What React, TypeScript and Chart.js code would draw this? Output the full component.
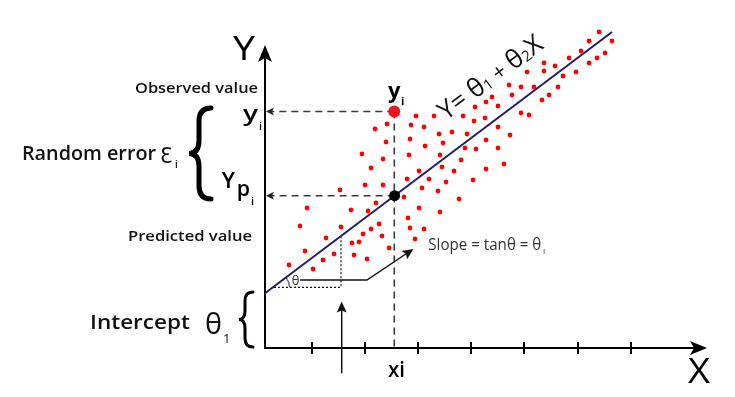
import React, { useEffect, useRef } from "react";
import { Chart, registerables } from "chart.js";
Chart.register(...registerables);

const dotX = [334, 324, 347, 316, 340, 332, 304, 324, 279, 290, 279, 311, 262, 298, 244, 256, 269, 293, 284, 277, 247, 227, 221, 210, 233, 256, 264, 151, 169, 198, 209, 220, 122, 110, 146, 159, 187, 174, 202, 233, 245, 121, 145, 160, 178, 221, 200, 211, 233, 97, 118, 144, 175, 196, 239, 106, 154, 177, 189, 221, 142, 164, 181, 208, 100, 118, 157, 75, 173, 139, 194, 42, 86, 103, 111, 154, 175, 35, 76, 114, 106, 143, 145, 159, 61, 98, 117, 150, 87, 94, 40, 69, 58, 89, 102, 124, 24, 48];
const dotY = [316, 307, 307, 297, 295, 290, 290, 285, 285, 282, 277, 276, 276, 272, 263, 261, 261, 261, 253, 248, 253, 251, 246, 241, 242, 235, 233, 232, 232, 232, 227, 230, 224, 219, 223, 221, 216, 214, 214, 221, 213, 206, 209, 202, 205, 208, 200, 199, 200, 194, 189, 193, 193, 188, 184, 180, 177, 181, 177, 179, 169, 169, 166, 168, 163, 163, 160, 158, 157, 151, 149, 140, 138, 137, 145, 140, 136, 122, 121, 124, 119, 130, 120, 119, 110, 114, 112, 109, 105, 106, 97, 94, 88, 93, 89, 100, 83, 79];

// Regression line Y = θ1 + θ2 X (end points)
const lineX = [0, 347];
const lineY = [54.7, 316];

// Highlighted observation y_i and its prediction Y_p_i at x_i
const observedX = [129.3];
const observedY = [236.5];
const predictedX = [129.6];
const predictedY = [152.3];

// X-axis tick positions and axis extents
const xTicks = [47, 100, 153, 206, 259, 313, 366];
const xAxisEnd = [442];
const yAxisEnd = [303];

const FF = '"Open Sans", "DejaVu Sans", sans-serif';

function drawText(
  ctx: CanvasRenderingContext2D,
  s: string,
  x: number,
  y: number,
  size: number,
  weight: number,
  o: { w?: number; align?: string; base?: CanvasTextBaseline; color?: string; family?: string } = {}
) {
  ctx.save();
  ctx.font = `${weight} ${size}px ${o.family || FF}`;
  const m = ctx.measureText(s).width;
  const sx = o.w ? o.w / m : 1;
  const width = m * sx;
  let x0 = x;
  if (o.align === "right") x0 = x - width;
  else if (o.align === "center") x0 = x - width / 2;
  ctx.translate(x0, y);
  ctx.scale(sx, 1);
  ctx.textAlign = "left";
  ctx.textBaseline = o.base || "alphabetic";
  ctx.fillStyle = o.color || "#111";
  ctx.fillText(s, 0, 0);
  ctx.restore();
}

function brace(ctx: CanvasRenderingContext2D, xTip: number, xBody: number, xEnd: number, yTop: number, yBot: number, lw: number) {
  const ym = (yTop + yBot) / 2;
  const r = Math.abs(xEnd - xBody) * 1.1;
  ctx.save();
  ctx.strokeStyle = "#000";
  ctx.lineWidth = lw;
  ctx.lineCap = "round";
  ctx.setLineDash([]);
  ctx.beginPath();
  ctx.moveTo(xEnd, yTop);
  ctx.quadraticCurveTo(xBody, yTop, xBody, yTop + r);
  ctx.lineTo(xBody, ym - r);
  ctx.quadraticCurveTo(xBody, ym, xTip, ym);
  ctx.quadraticCurveTo(xBody, ym, xBody, ym + r);
  ctx.lineTo(xBody, yBot - r);
  ctx.quadraticCurveTo(xBody, yBot, xEnd, yBot);
  ctx.stroke();
  ctx.restore();
}

function arrowHead(ctx: CanvasRenderingContext2D, tx: number, ty: number, fx: number, fy: number, len: number, half: number, notch: number) {
  const a = Math.atan2(ty - fy, tx - fx);
  const c = Math.cos(a), s = Math.sin(a);
  const bx = tx - c * len, by = ty - s * len;
  ctx.beginPath();
  ctx.moveTo(tx, ty);
  ctx.lineTo(bx - s * half, by + c * half);
  ctx.lineTo(tx - c * (len - notch), ty - s * (len - notch));
  ctx.lineTo(bx + s * half, by - c * half);
  ctx.closePath();
  ctx.fill();
}

const diagramPlugin = {
  id: "diagram",
  beforeDatasetsDraw(chart: any) {
    const ctx: CanvasRenderingContext2D = chart.ctx;
    const xs = chart.scales.x, ys = chart.scales.y;
    const X = (v: number) => xs.getPixelForValue(v);
    const Y = (v: number) => ys.getPixelForValue(v);
    const x0 = X(0), y0 = Y(0);
    ctx.save();
    // dashed guides
    ctx.strokeStyle = "#3a3a3a";
    ctx.lineWidth = 1.6;
    ctx.setLineDash([7, 5]);
    ctx.beginPath();
    ctx.moveTo(X(observedX[0]), Y(observedY[0]));
    ctx.lineTo(x0 + 4, Y(observedY[0]));
    ctx.moveTo(X(predictedX[0]), Y(predictedY[0]));
    ctx.lineTo(x0 + 4, Y(predictedY[0]));
    ctx.moveTo(X(observedX[0]), Y(observedY[0]));
    ctx.lineTo(X(observedX[0]), y0);
    ctx.stroke();
    ctx.setLineDash([]);
    ctx.fillStyle = "#222";
    arrowHead(ctx, x0 + 1, Y(observedY[0]), x0 + 20, Y(observedY[0]), 8, 4, 2);
    arrowHead(ctx, x0 + 1, Y(predictedY[0]), x0 + 20, Y(predictedY[0]), 8, 4, 2);

    // slope construction (dotted)
    ctx.strokeStyle = "#111";
    ctx.lineWidth = 1.2;
    ctx.setLineDash([2, 2]);
    ctx.beginPath();
    ctx.moveTo(X(9), Y(60.7));
    ctx.lineTo(X(76), Y(60.7));
    ctx.lineTo(X(76), Y(112));
    ctx.stroke();
    ctx.setLineDash([]);

    // axes
    ctx.strokeStyle = "#000";
    ctx.fillStyle = "#000";
    ctx.lineWidth = 2;
    ctx.beginPath();
    ctx.moveTo(x0, y0 + 1);
    ctx.lineTo(x0, Y(yAxisEnd[0]) + 12);
    ctx.moveTo(x0 - 1, y0);
    ctx.lineTo(X(xAxisEnd[0]) - 12, y0);
    ctx.stroke();
    arrowHead(ctx, x0, Y(yAxisEnd[0]), x0, y0, 17, 7, 4);
    arrowHead(ctx, X(xAxisEnd[0]), y0, x0, y0, 17, 7, 4);
    ctx.beginPath();
    for (const t of xTicks) {
      ctx.moveTo(X(t), y0 - 6);
      ctx.lineTo(X(t), y0 + 6);
    }
    ctx.stroke();
    ctx.restore();
  },
  afterDatasetsDraw(chart: any) {
    const ctx: CanvasRenderingContext2D = chart.ctx;
    const xs = chart.scales.x, ys = chart.scales.y;
    const X = (v: number) => xs.getPixelForValue(v);
    const Y = (v: number) => ys.getPixelForValue(v);
    ctx.save();

    // theta arc and label
    ctx.strokeStyle = "#222";
    ctx.lineWidth = 1;
    ctx.beginPath();
    ctx.arc(X(9), Y(60.7), 15.5, -0.66, 0);
    ctx.stroke();
    drawText(ctx, "θ", X(26.7), Y(67), 13, 400, { base: "middle", color: "#333" });

    // leader to slope text
    ctx.strokeStyle = "#111";
    ctx.fillStyle = "#111";
    ctx.lineWidth = 1.5;
    ctx.beginPath();
    ctx.moveTo(X(35), Y(68));
    ctx.lineTo(X(102), Y(68));
    ctx.lineTo(X(146), Y(97.5));
    ctx.stroke();
    arrowHead(ctx, X(148.5), Y(99), X(102), Y(68), 11, 5, 2);
    drawText(ctx, "Slope = tanθ = θ", X(163.3), Y(98), 15.5, 400, { w: 113, color: "#333" });
    drawText(ctx, "I", X(278), Y(94), 8, 400, { color: "#333" });

    // upward arrow under intercept
    ctx.beginPath();
    ctx.moveTo(X(76.7), Y(-25.3));
    ctx.lineTo(X(76.7), Y(38));
    ctx.stroke();
    arrowHead(ctx, X(76.7), Y(46.5), X(76.7), Y(-25), 11, 5, 2);

    // axis letters
    drawText(ctx, "Y", X(-32), Y(288), 32, 400, { w: 22, color: "#000" });
    drawText(ctx, "X", X(423), Y(-35), 34, 400, { w: 22, color: "#000" });
    drawText(ctx, "xi", X(123), Y(-29), 21, 600, { w: 17, color: "#000" });

    // labels on the left
    drawText(ctx, "Observed value", X(-7), Y(259), 14.5, 600, { w: 123, align: "right", base: "middle" });
    drawText(ctx, "Predicted value", X(-13), Y(111), 14.5, 600, { w: 124, align: "right", base: "middle" });
    drawText(ctx, "y", X(-22), Y(227), 22, 600, { w: 15, color: "#000" });
    drawText(ctx, "i", X(-6), Y(218), 11, 600, { color: "#000" });
    drawText(ctx, "Y", X(-43.3), Y(160), 22, 600, { w: 13.3, color: "#000" });
    drawText(ctx, "p", X(-28.3), Y(152), 21, 600, { w: 13.3, color: "#000" });
    drawText(ctx, "i", X(-14), Y(143), 11, 600, { color: "#000" });
    drawText(ctx, "Random error", X(-243), Y(193), 19, 600, { w: 134, base: "middle" });
    drawText(ctx, "Ɛ", X(-105), Y(185), 22, 400, { w: 12.5, family: '"DejaVu Sans", sans-serif' });
    drawText(ctx, "i", X(-90), Y(180), 10, 600);
    drawText(ctx, "Intercept", X(-175), Y(19), 20.5, 600, { w: 100 });
    drawText(ctx, "θ", X(-60), Y(14), 30, 400, { w: 17 });
    drawText(ctx, "1", X(-42), Y(5), 13, 400);

    // braces
    brace(ctx, X(-76), X(-66), X(-54), Y(240), Y(149), 5);
    brace(ctx, X(-26), X(-20), X(-12), Y(56), Y(1), 3);

    // y_i label near the observed point
    drawText(ctx, "y", X(123), Y(250), 21, 700, { w: 12.5, color: "#000" });
    drawText(ctx, "i", X(136), Y(243), 11, 700, { color: "#000" });

    // rotated equation
    ctx.save();
    ctx.translate(X(181), Y(227));
    ctx.rotate(-0.64);
    ctx.fillStyle = "#111";
    const pieces: [string, number, number][] = [
      ["Y", 26, 0], ["= ", 26, 0], ["θ", 26, 0], ["1", 15, 1], [" + ", 22, 0], ["θ", 26, 0], ["2", 15, 1], ["X", 26, 0],
    ];
    let cx = 0;
    for (const [s, size, dy] of pieces) {
      ctx.font = `400 ${size}px ${FF}`;
      ctx.fillText(s, cx, dy);
      cx += ctx.measureText(s).width;
    }
    ctx.restore();

    ctx.restore();
  },
};

export default function App() {
  const ref = useRef<HTMLCanvasElement | null>(null);
  useEffect(() => {
    if (!ref.current) return;
    const chart = new Chart(ref.current, {
      type: "scatter",
      data: {
        datasets: [
          {
            type: "line",
            data: lineX.map((x, i) => ({ x, y: lineY[i] })),
            borderColor: "#1f1b6e",
            borderWidth: 2,
            pointRadius: 0,
            clip: false,
            order: 2,
          } as any,
          {
            data: dotX.map((x, i) => ({ x, y: dotY[i] })),
            pointRadius: 2.4,
            pointBackgroundColor: "#ff0000",
            pointBorderWidth: 0,
            clip: false,
            order: 3,
          },
          {
            data: observedX.map((x, i) => ({ x, y: observedY[i] })),
            pointRadius: 6,
            pointBackgroundColor: "#f0141e",
            pointBorderWidth: 0,
            clip: false,
            order: 1,
          },
          {
            data: predictedX.map((x, i) => ({ x, y: predictedY[i] })),
            pointRadius: 5.5,
            pointBackgroundColor: "#000",
            pointBorderWidth: 0,
            clip: false,
            order: 0,
          },
        ],
      },
      options: {
        animation: false,
        responsive: false,
        devicePixelRatio: 1,
        layout: { padding: { left: 265, right: 10, top: 10, bottom: 49 } },
        plugins: { legend: { display: false }, tooltip: { enabled: false } },
        events: [],
        scales: {
          x: { type: "linear", min: 0, max: 460, display: false },
          y: { type: "linear", min: 0, max: 338, display: false },
        },
      },
      plugins: [diagramPlugin],
    });
    return () => chart.destroy();
  }, []);
  return (
    <div style={{ position: "fixed", left: 0, top: 0, width: 735, height: 397, background: "#fff" }}>
      <canvas ref={ref} width={735} height={397} style={{ display: "block" }} />
    </div>
  );
}
